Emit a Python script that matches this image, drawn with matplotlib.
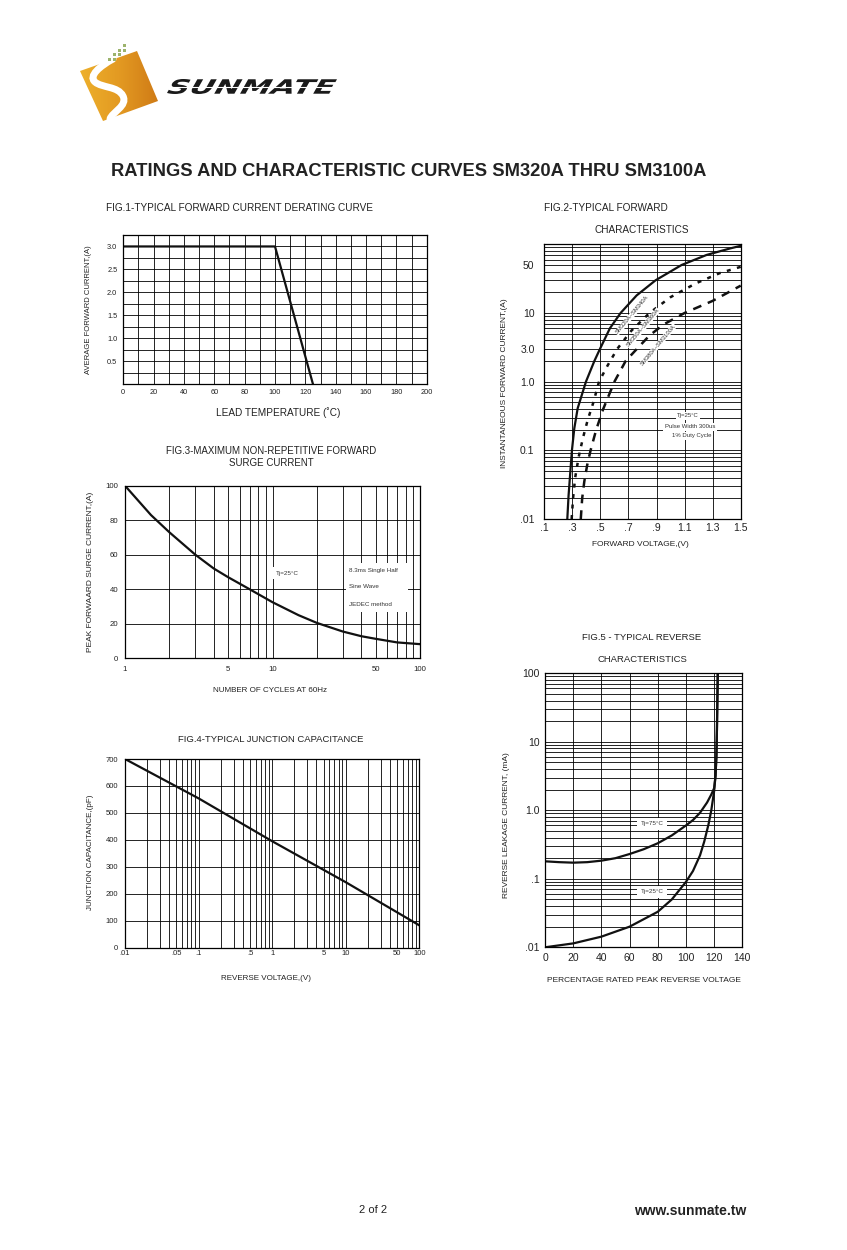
import numpy as np
import matplotlib
matplotlib.use('Agg')
import matplotlib.pyplot as plt
from matplotlib.patches import Polygon, PathPatch, Rectangle
from matplotlib.path import Path
from matplotlib.textpath import TextPath
from matplotlib.font_manager import FontProperties
from matplotlib.transforms import Affine2D
from matplotlib.colors import LinearSegmentedColormap
from matplotlib.ticker import FixedLocator, NullFormatter

plt.rcParams['font.family'] = ['Liberation Sans', 'DejaVu Sans']

# ---- data ----
# fig.1 derating
lead_temp = [0, 100, 125]
avg_current = [3.0, 3.0, 0.0]

# fig.2 forward characteristics
vf_320 = [0.264, 0.273, 0.297, 0.314, 0.338, 0.397, 0.457, 0.497, 0.568, 0.644, 0.758, 0.894, 1.079, 1.257, 1.424, 1.5]
if_320 = [0.01, 0.022, 0.1, 0.21, 0.41, 1.0, 2.0, 3.0, 6.0, 10, 18, 30, 50, 70, 87, 95]
vf_350 = [0.295, 0.305, 0.32, 0.345, 0.375, 0.41, 0.45, 0.49, 0.55, 0.62, 0.72, 0.85, 1.0, 1.18, 1.35, 1.5]
if_350 = [0.01, 0.02, 0.04, 0.08, 0.15, 0.28, 0.5, 1.0, 1.7, 3.0, 5.5, 10, 17, 27, 38, 47]
vf_380 = [0.36, 0.37, 0.385, 0.405, 0.43, 0.47, 0.52, 0.60, 0.68, 0.76, 0.85, 0.95, 1.1, 1.3, 1.5]
if_380 = [0.01, 0.02, 0.035, 0.06, 0.1, 0.2, 0.4, 1.0, 2.0, 3.0, 4.7, 6.8, 10, 15, 25]

# fig.3 surge current
cycles = [1, 1.5, 2, 3, 4, 5, 7, 10, 15, 20, 30, 40, 50, 70, 100]
surge = [100, 83, 73, 60, 52, 47, 40, 32.5, 25, 20.5, 15.5, 12.8, 11.3, 9.2, 8.2]

# fig.4 junction capacitance
vr = [0.01, 0.1, 1, 10, 100]
cap = [700, 554, 395, 243, 83]

# fig.5 reverse leakage
pct_75 = [0, 10, 20, 30, 40, 50, 60, 70, 80, 90, 100, 105, 110, 115, 118, 120, 121, 121.6, 122, 122.3, 122.6]
ir_75 = [0.18, 0.175, 0.172, 0.175, 0.184, 0.2, 0.23, 0.27, 0.33, 0.43, 0.6, 0.72, 0.92, 1.3, 1.7, 2.1, 3.2, 6, 15, 40, 100]
pct_25 = [0, 20, 40, 60, 80, 90, 100, 105, 110, 113, 116, 118, 120, 121, 121.6, 122, 122.3, 122.6]
ir_25 = [0.01, 0.0114, 0.0143, 0.02, 0.033, 0.05, 0.09, 0.13, 0.22, 0.35, 0.62, 1.0, 1.9, 3.2, 6, 15, 40, 100]

W, H = 847, 1250
fig = plt.figure(figsize=(W / 100, H / 100), dpi=100)
page = fig.add_axes([0, 0, 1, 1])
page.axis('off')


def box(l, t, r, b):
    return fig.add_axes([l / W, 1 - b / H, (r - l) / W, (b - t) / H])


def style(ax, size, xpad, ypad):
    ax.grid(True, which='both', color='black', lw=0.6)
    ax.tick_params(which='both', length=0, labelsize=size, colors='#222222')
    ax.tick_params(axis='x', pad=xpad)
    ax.tick_params(axis='y', pad=ypad)
    for s in ax.spines.values():
        s.set_linewidth(0.9)


def log_minor(lo, hi):
    return [m * 10.0 ** e for e in range(lo, hi) for m in range(2, 10)]


# logo
cmap = LinearSegmentedColormap.from_list('logo', ['#eeb12c', '#e39a22', '#cf7a16'])
grad = np.linspace(0, 1, 100).reshape(1, -1)
im = page.imshow(grad, extent=(78, 160, 124, 48), cmap=cmap, aspect='auto', zorder=1)
sq = Polygon([(80, 71), (137, 51), (158, 101), (103, 121)], closed=True, fc='none', ec='none',
             joinstyle='round')
page.add_patch(sq)
im.set_clip_path(sq)
s_path = Path([(113, 59), (100, 66), (88, 76), (95, 82),
               (102, 88), (118, 86), (123, 96),
               (128, 106), (112, 112), (110, 119)],
              [Path.MOVETO] + [Path.CURVE4] * 9)
page.add_patch(PathPatch(s_path, fc='none', ec='white', lw=5, capstyle='round', zorder=2))
for gx, gy in [(123, 44), (118, 48.5), (123, 48.5), (113, 53), (118, 53), (108, 57.5), (113, 57.5)]:
    page.add_patch(Rectangle((gx, gy), 3, 3, fc='#9cb36c', ec='none', zorder=2))
tp = TextPath((0, 0), 'SUNMATE', size=20, prop=FontProperties(family='DejaVu Sans', weight='bold'))
p1 = Affine2D().skew_deg(20, 0).transform_path(tp)
ext = p1.get_extents()
tr = Affine2D().translate(-ext.x0, -ext.y0).scale(170 / ext.width, -15 / ext.height).translate(167, 94)
page.add_patch(PathPatch(tr.transform_path(p1), fc='#1a1a1a', ec='none', zorder=2))
page.plot([165, 340], [86.5, 86.5], color='white', lw=0.8, zorder=3)

page.set_xlim(0, W)
page.set_ylim(H, 0)

# page text
page.text(409, 172, 'RATINGS AND CHARACTERISTIC CURVES SM320A THRU SM3100A', ha='center', va='center',
          fontsize=13.2, fontweight='bold', color='#222222')
txt = dict(ha='center', va='center', color='#222222')
page.text(106, 208, 'FIG.1-TYPICAL FORWARD CURRENT DERATING CURVE', fontsize=7.2, ha='left', va='center', color='#222222')
page.text(88, 310, 'AVERAGE FORWARD CURRENT,(A)', fontsize=5.5, rotation=90, **txt)
page.text(278, 413, 'LEAD TEMPERATURE (˚C)', fontsize=7.2, **txt)
page.text(544, 208, 'FIG.2-TYPICAL FORWARD', fontsize=7.2, ha='left', va='center', color='#222222')
page.text(642, 230, 'CHARACTERISTICS', fontsize=7.2, **txt)
page.text(505, 383, 'INSTANTANEOUS FORWARD CURRENT,(A)', fontsize=6, rotation=90, **txt)
page.text(640, 545, 'FORWARD VOLTAGE,(V)', fontsize=6, **txt)
page.text(271, 451, 'FIG.3-MAXIMUM NON-REPETITIVE FORWARD', fontsize=7, **txt)
page.text(271, 463, 'SURGE CURRENT', fontsize=7, **txt)
page.text(91, 572, 'PEAK FORWAARD SURGE CURRENT,(A)', fontsize=6, rotation=90, **txt)
page.text(270, 691, 'NUMBER OF CYCLES AT 60Hz', fontsize=5.8, **txt)
page.text(271, 739, 'FIG.4-TYPICAL JUNCTION CAPACITANCE', fontsize=6.8, **txt)
page.text(90, 852, 'JUNCTION CAPACITANCE,(pF)', fontsize=5.8, rotation=90, **txt)
page.text(266, 978, 'REVERSE VOLTAGE,(V)', fontsize=5.8, **txt)
page.text(642, 637, 'FIG.5 - TYPICAL REVERSE', fontsize=6.8, **txt)
page.text(642, 659, 'CHARACTERISTICS', fontsize=6.8, **txt)
page.text(506, 825, 'REVERSE LEAKAGE CURRENT, (mA)', fontsize=6, rotation=90, **txt)
page.text(644, 980, 'PERCENTAGE RATED PEAK REVERSE VOLTAGE', fontsize=6, **txt)
page.text(373, 1210, '2 of 2', fontsize=8, **txt)
page.text(690, 1211, 'www.sunmate.tw', fontsize=10, fontweight='bold', **txt)

wbox = dict(facecolor='white', edgecolor='none', pad=1.0)

# FIG.1
ax1 = box(123.3, 235, 426.7, 384)
ax1.plot(lead_temp, avg_current, color='#111111', lw=1.6)
ax1.set_xlim(0, 200)
ax1.set_ylim(0, 3.25)
ax1.set_xticks(range(0, 201, 20))
ax1.set_xticks(range(0, 201, 10), minor=True)
ax1.set_yticks([0.5, 1.0, 1.5, 2.0, 2.5, 3.0])
ax1.set_yticklabels(['0.5', '1.0', '1.5', '2.0', '2.5', '3.0'])
ax1.set_yticks(np.arange(0, 3.26, 0.25), minor=True)
style(ax1, 5.3, 3.6, 4.3)

# FIG.2
ax2 = box(544.3, 244.3, 740.7, 519)
ax2.set_yscale('log')
ax2.plot(vf_320, if_320, color='#111111', lw=1.6)
ax2.plot(vf_350, if_350, color='#111111', lw=1.8, ls=(0, (1.6, 2.6)))
ax2.plot(vf_380, if_380, color='#111111', lw=1.8, ls=(0, (3.5, 2.8)))
ax2.set_xlim(0.1, 1.5)
ax2.set_ylim(0.01, 100)
ax2.set_xticks([0.1, 0.3, 0.5, 0.7, 0.9, 1.1, 1.3, 1.5])
ax2.set_xticklabels(['.1', '.3', '.5', '.7', '.9', '1.1', '1.3', '1.5'])
ax2.yaxis.set_major_locator(FixedLocator([0.01, 0.1, 1, 3, 10, 50]))
ax2.set_yticklabels(['.01', '0.1', '1.0', '3.0', '10', '50'])
ax2.yaxis.set_minor_locator(FixedLocator(log_minor(-2, 2)))
ax2.yaxis.set_minor_formatter(NullFormatter())
style(ax2, 7.5, 3.2, 7)
for s, px, py in [('SM320A~SM340A', 632, 315), ('SM350A~SM360A', 643, 328), ('SM380A~SM3100A', 658, 345)]:
    ax2.text(px, py, s, transform=page.transData, rotation=50, fontsize=4.2, ha='center', va='center',
             color='#333333', bbox=dict(facecolor='white', edgecolor='none', pad=0.3), zorder=5)
for s, px, py in [('Tj=25°C', 688, 416), ('Pulse Width 300us', 690, 426.7), ('1% Duty Cycle', 692, 435.7)]:
    ax2.text(px, py, s, transform=page.transData, fontsize=4.3, ha='center', va='center',
             color='#333333', bbox=wbox, zorder=5)

# FIG.3
ax3 = box(125, 485.7, 420, 658.3)
ax3.set_xscale('log')
ax3.plot(cycles, surge, color='#111111', lw=1.6)
ax3.set_xlim(1, 100)
ax3.set_ylim(0, 100)
ax3.set_yticks(range(0, 101, 20))
ax3.xaxis.set_major_locator(FixedLocator([1, 5, 10, 50, 100]))
ax3.set_xticklabels(['1', '5', '10', '50', '100'])
ax3.xaxis.set_minor_locator(FixedLocator(log_minor(0, 2)))
ax3.xaxis.set_minor_formatter(NullFormatter())
style(ax3, 5.6, 5.8, 4.8)
ax3.text(276, 573, 'Tj=25°C', transform=page.transData, fontsize=4.5, ha='left', va='center',
         color='#333333', bbox=dict(facecolor='white', edgecolor='none', pad=2.5), zorder=5)
ax3.add_patch(Rectangle((346, 563), 62, 49, transform=page.transData, fc='white', ec='none', zorder=4))
for s, py in [('8.3ms Single Half', 570.7), ('Sine Wave', 586.7), ('JEDEC method', 604)]:
    ax3.text(349, py, s, transform=page.transData, fontsize=4.5, ha='left', va='center',
             color='#333333', zorder=5)

# FIG.4
ax4 = box(125, 759, 419.3, 947.7)
ax4.set_xscale('log')
ax4.plot(vr, cap, color='#111111', lw=1.6)
ax4.set_xlim(0.01, 100)
ax4.set_ylim(0, 700)
ax4.set_yticks(range(0, 701, 100))
ax4.xaxis.set_major_locator(FixedLocator([0.01, 0.05, 0.1, 0.5, 1, 5, 10, 50, 100]))
ax4.set_xticklabels(['.01', '.05', '.1', '.5', '1', '5', '10', '50', '100'])
ax4.xaxis.set_minor_locator(FixedLocator(log_minor(-2, 2)))
ax4.xaxis.set_minor_formatter(NullFormatter())
style(ax4, 5.5, 2.0, 4.8)

# FIG.5
ax5 = box(545, 673.3, 742.3, 947.3)
ax5.set_yscale('log')
ax5.plot(pct_75, ir_75, color='#111111', lw=1.6)
ax5.plot(pct_25, ir_25, color='#111111', lw=1.6)
ax5.set_xlim(0, 140)
ax5.set_ylim(0.01, 100)
ax5.set_xticks(range(0, 141, 20))
ax5.yaxis.set_major_locator(FixedLocator([0.01, 0.1, 1, 10, 100]))
ax5.set_yticklabels(['.01', '.1', '1.0', '10', '100'])
ax5.yaxis.set_minor_locator(FixedLocator(log_minor(-2, 2)))
ax5.yaxis.set_minor_formatter(NullFormatter())
style(ax5, 7.5, 4.3, 4.0)
for s, py in [('Tj=75°C', 824), ('Tj=25°C', 891.7)]:
    ax5.text(652, py, s, transform=page.transData, fontsize=4.5, ha='center', va='center',
             color='#333333', bbox=dict(facecolor='white', edgecolor='none', pad=2.5), zorder=5)

fig.savefig('out.png', dpi=100, facecolor='white')
